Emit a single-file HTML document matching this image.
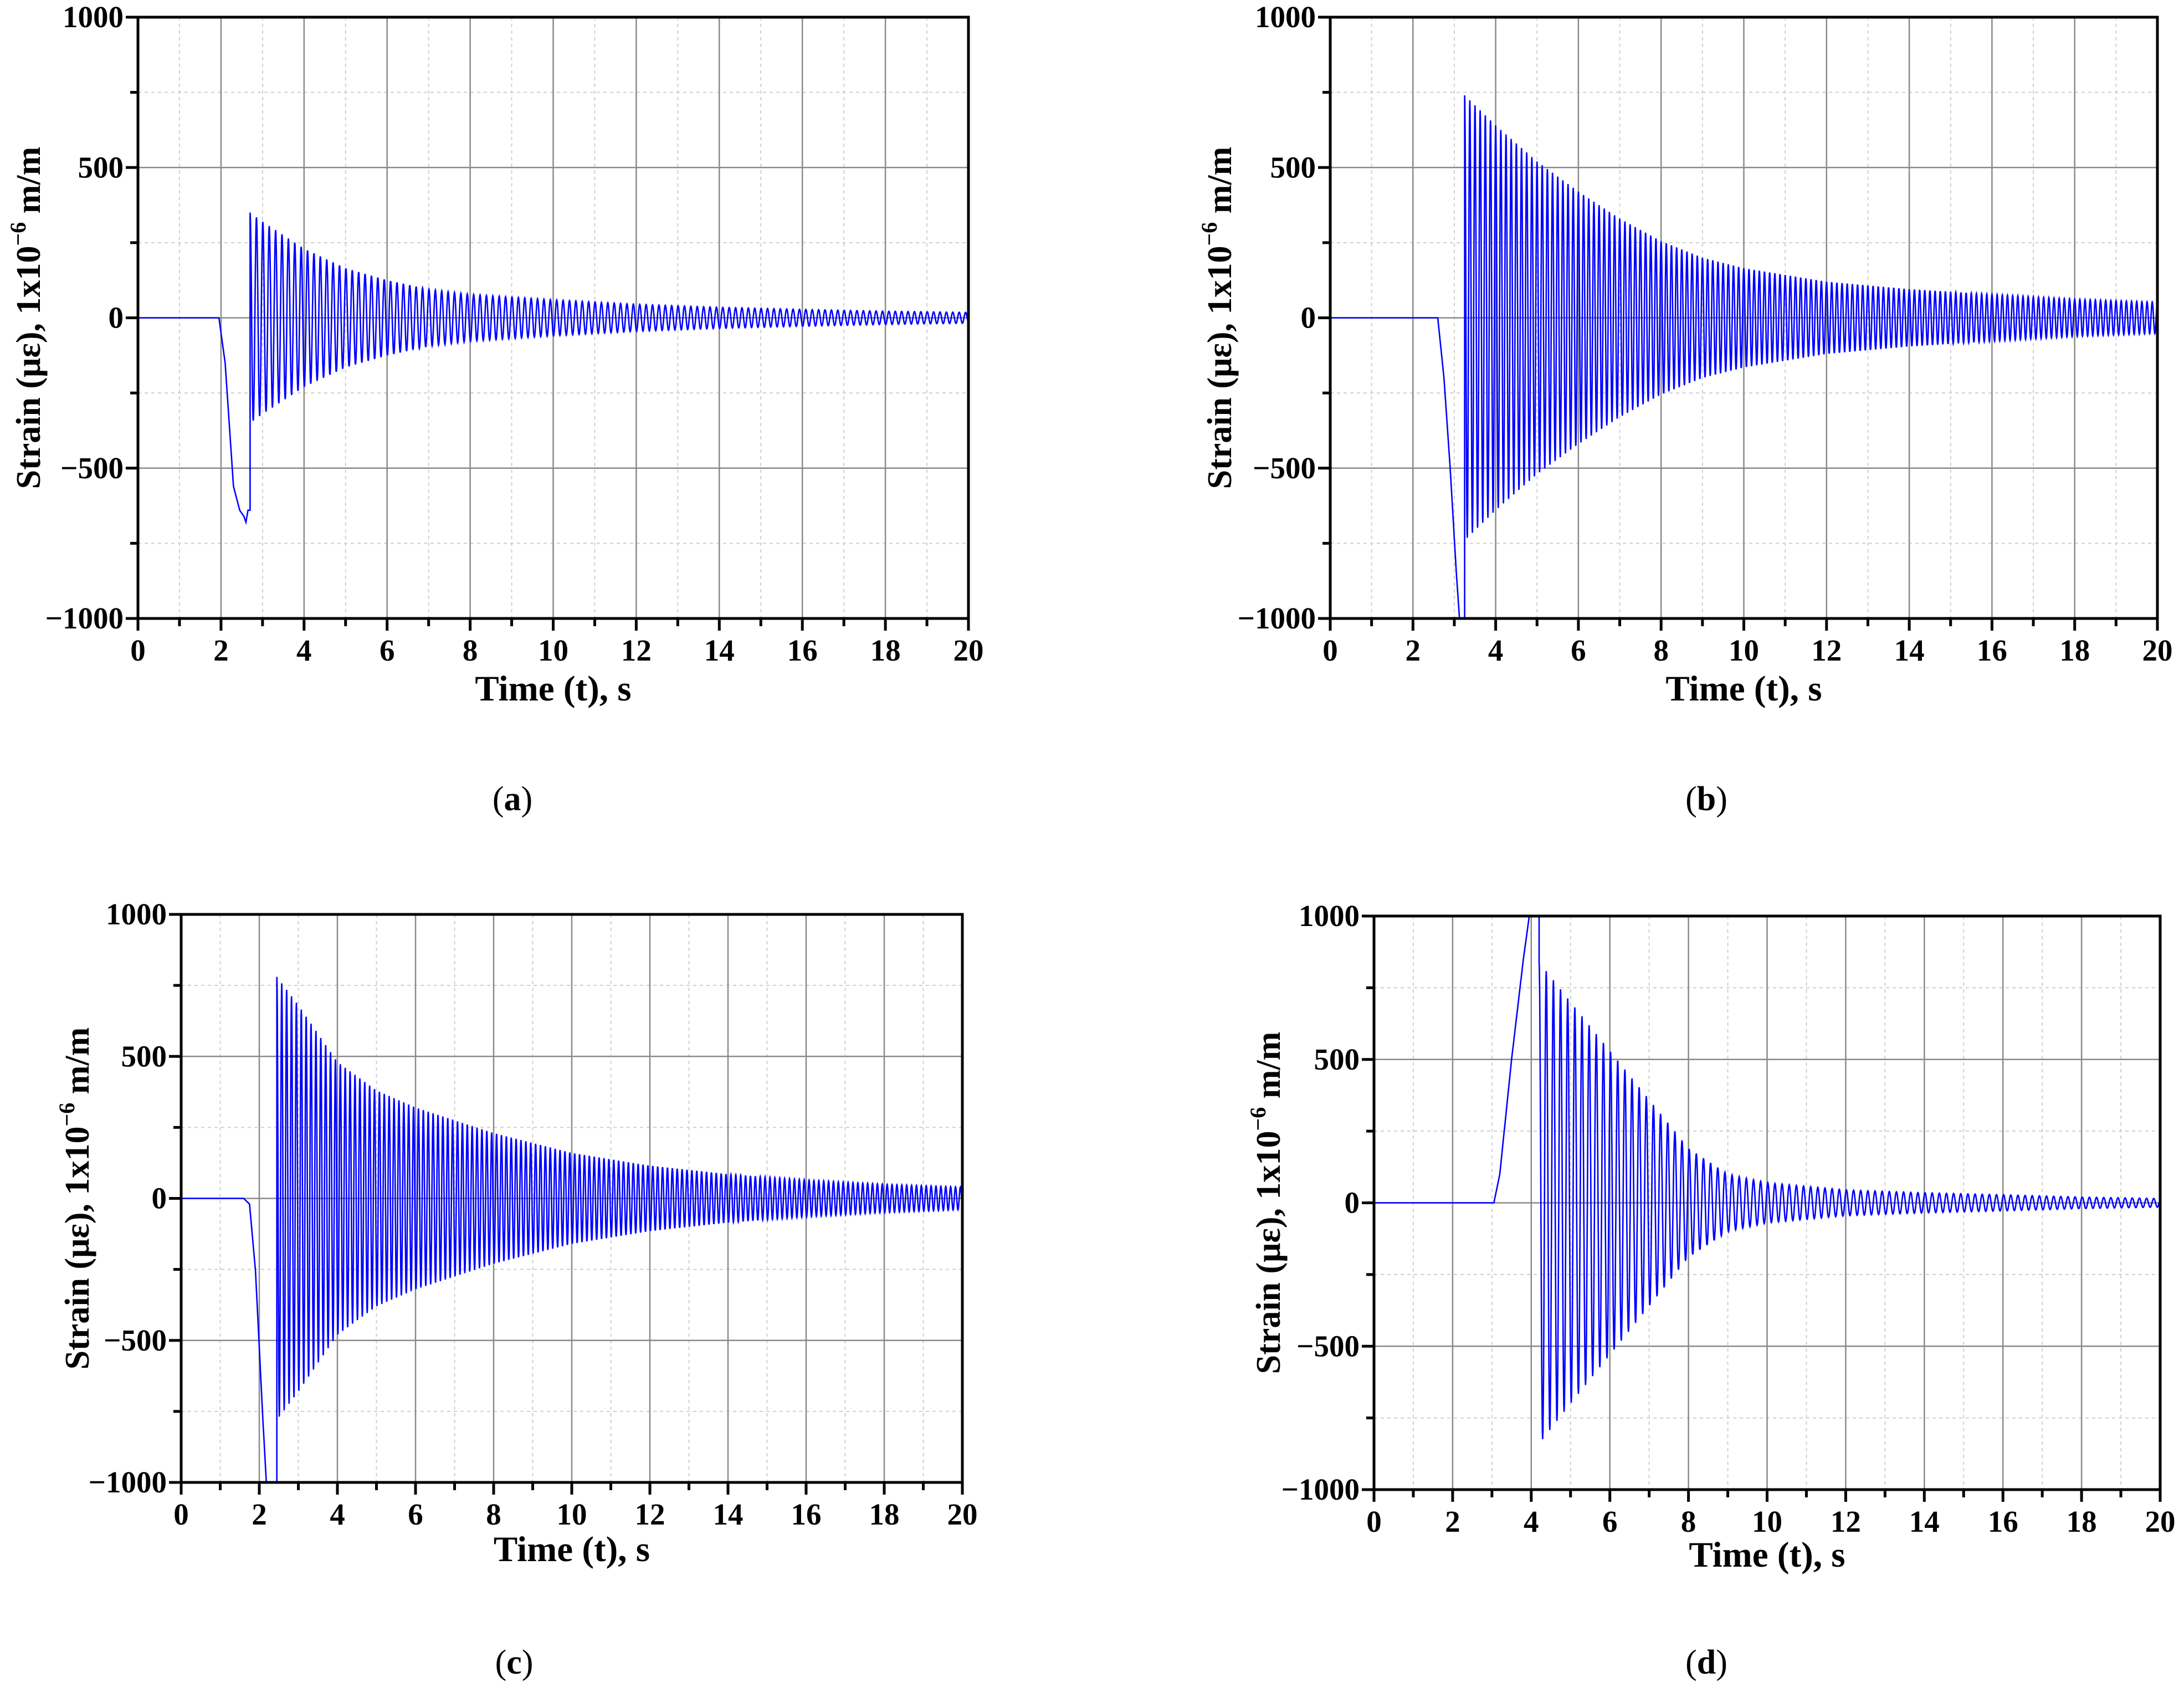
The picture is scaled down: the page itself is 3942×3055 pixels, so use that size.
<!DOCTYPE html>
<html><head><meta charset="utf-8"><style>
html,body{margin:0;padding:0;background:#fff;}
svg{display:block;}
text{font-family:"Liberation Serif",serif;}
</style></head>
<body>
<svg id="fig" width="3942" height="3055" viewBox="0 0 3942 3055" xmlns="http://www.w3.org/2000/svg"></svg>
<script>
// ---- data ----
const xTicks = [0,2,4,6,8,10,12,14,16,18,20];
const yTicks = [-1000,-500,0,500,1000];
const yTickLabels = ["\u22121000","\u2212500","0","500","1000"];
// panel a
const aPreT = [0,1.95,2.1,2.3,2.45,2.55,2.6,2.65];
const aPreV = [0,0,-150,-560,-640,-660,-680,-640];
const aEnvT = [2.7,3,4,5,6,7,8,10,12,14,16,18,20];
const aEnvV = [350,320,230,165,125,95,78,60,45,35,28,22,18];
const aFreq = [6.5];
// panel b
const bPreT = [0,2.6,2.75,2.9,3.05,3.15,3.2];
const bPreV = [0,0,-200,-500,-850,-1050,-1050];
const bEnvT = [3.25,4,5,6,7,8,9,10,12,14,16,18,20];
const bEnvV = [740,640,520,420,330,255,200,165,120,95,78,62,52];
const bFreq = [8];
// panel c
const cPreT = [0,1.6,1.75,1.9,2.1,2.2,2.4];
const cPreV = [0,0,-20,-250,-800,-1050,-1050];
const cEnvT = [2.45,3,4,5,6,8,10,12,14,16,18,20];
const cEnvV = [780,680,480,380,320,230,160,115,85,65,50,40];
const cFreq = [8];
// panel d
const dPreT = [0,3.05,3.2,3.5,3.8,4.0,4.15];
const dPreV = [0,0,100,500,850,1050,1050];
const dEnvT = [4.2,5,6,7,8,9,10,12,14,16,18,20];
const dEnvV = [840,700,530,360,190,100,70,45,35,28,20,15];
const dFreq = [5.5];

const NS="http://www.w3.org/2000/svg";
const svg=document.getElementById('fig');
function mk(tag,attrs,parent){const e=document.createElementNS(NS,tag);for(const k in attrs)e.setAttribute(k,attrs[k]);(parent||svg).appendChild(e);return e;}
function interp(T,V,t){if(t<=T[0])return V[0];for(let i=1;i<T.length;i++){if(t<=T[i]){const f=(t-T[i-1])/(T[i]-T[i-1]);return V[i-1]+f*(V[i]-V[i-1]);}}return V[V.length-1];}

function panel(id,L,R,T,B,preT,preV,envT,envV,freq,ylabX,xtitleY,capX,capY,cap){
  const g=mk('g',{});
  
  
  const sx=t=>L+(t-0)/(20-0)*(R-L);
  const sy=v=>B-(v+1000)/2000*(B-T);
  for(let t=1;t<20;t+=2){const l=mk('line',{x1:sx(t),x2:sx(t),y1:T,y2:B,stroke:'#cfcfcf','stroke-width':2,'stroke-dasharray':'6 6'},g);}
  for(const v of [-750,-250,250,750]){const l=mk('line',{x1:L,x2:R,y1:sy(v),y2:sy(v),stroke:'#cfcfcf','stroke-width':2,'stroke-dasharray':'6 6'},g);}
  for(const t of xTicks){if(t===0||t===20)continue;const l=mk('line',{x1:sx(t),x2:sx(t),y1:T,y2:B,stroke:'#8a8a8a','stroke-width':2.5},g);}
  for(const v of [-500,0,500]){const l=mk('line',{x1:L,x2:R,y1:sy(v),y2:sy(v),stroke:'#8a8a8a','stroke-width':2.5},g);}
  const cp=mk('clipPath',{id:'clip'+id},g);mk('rect',{x:L,y:T,width:R-L,height:B-T},cp);
  let pts=[];
  const ts=envT[0];
  for(let t=0;t<ts;t+=0.01){pts.push([t,interp(preT,preV,t)]);}
  const f=freq[0];const dt=1/(f*24);
  for(let t=ts;t<=20;t+=dt){const a=interp(envT,envV,t);pts.push([t,a*Math.cos(2*Math.PI*f*(t-ts))]);}
  const d='M'+pts.map(p=>sx(p[0]).toFixed(1)+','+sy(p[1]).toFixed(1)).join('L');
  const path=mk('path',{d:d,fill:'none',stroke:'#0000ff','stroke-width':2.6,'clip-path':'url(#clip'+id+')'},g);
  
  
  const fr=mk('rect',{x:L,y:T,width:R-L,height:B-T,fill:'none',stroke:'#000','stroke-width':5},g);
  
  for(let t=0;t<=20;t++){const major=t%2===0;mk('line',{x1:sx(t),x2:sx(t),y1:B,y2:B+(major?22:14),stroke:'#000','stroke-width':5},g);}
  xTicks.forEach(t=>{const tx=mk('text',{x:sx(t),y:B+76,'font-size':55,'font-weight':'bold','text-anchor':'middle'},g);tx.textContent=String(t);});
  for(let v=-1000;v<=1000;v+=250){const major=v%500===0;mk('line',{x1:L,x2:L-(major?22:14),y1:sy(v),y2:sy(v),stroke:'#000','stroke-width':5},g);}
  yTicks.forEach((v,i)=>{const tx=mk('text',{x:L-26,y:sy(v)+18,'font-size':55,'font-weight':'bold','text-anchor':'end'},g);tx.textContent=yTickLabels[i];});
  const xt=mk('text',{x:(L+R)/2,y:xtitleY,'font-size':65,'font-weight':'bold','text-anchor':'middle'},g);
  xt.textContent='Time (t), s';
  const cy=(T+B)/2;
  const yt=mk('text',{x:ylabX,y:cy,'font-size':62,'font-weight':'bold','text-anchor':'middle',transform:'rotate(-90 '+ylabX+' '+cy+')'},g);
  
  const s1=mk('tspan',{},yt);s1.textContent='Strain (\u03bc\u03b5), 1x10';
  const s2=mk('tspan',{'font-size':40,dy:-26},yt);s2.textContent='\u22126';
  const s3=mk('tspan',{dy:26},yt);s3.textContent=' m/m';
  const c=mk('text',{x:capX,y:capY,'font-size':62,'text-anchor':'middle'},g);
  
  const c1=mk('tspan',{},c);c1.textContent='(';
  const c2=mk('tspan',{'font-weight':'bold'},c);c2.textContent=cap;
  const c3=mk('tspan',{},c);c3.textContent=')';
}
panel('a',249,1748,31,1116,aPreT,aPreV,aEnvT,aEnvV,aFreq,72,1264,925,1462,'a');
panel('b',2401,3894,31,1116,bPreT,bPreV,bEnvT,bEnvV,bFreq,2222,1264,3080,1462,'b');
panel('c',327,1737,1650,2675,cPreT,cPreV,cEnvT,cEnvV,cFreq,160,2817,928,3020,'c');
panel('d',2480,3899,1653,2688,dPreT,dPreV,dEnvT,dEnvV,dFreq,2310,2827,3080,3020,'d');
</script>
</body></html>
